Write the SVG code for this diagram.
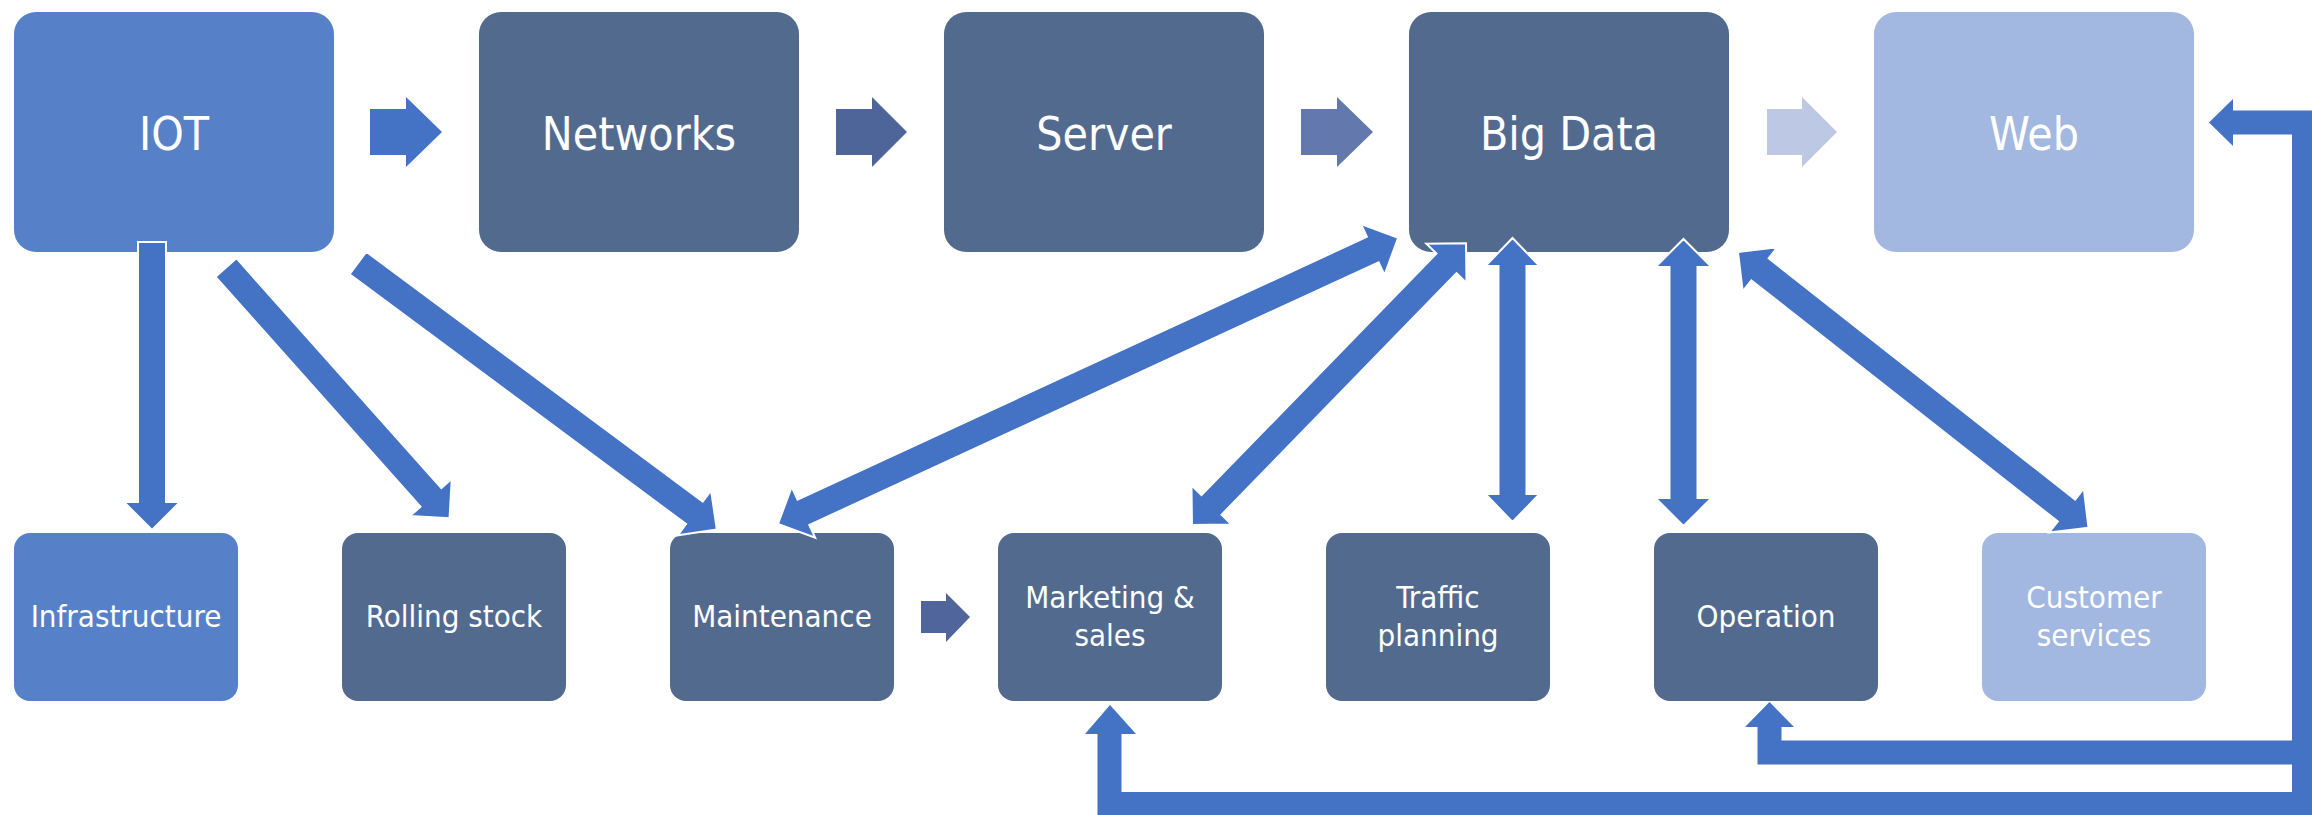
<svg xmlns="http://www.w3.org/2000/svg" width="2312" height="815" viewBox="0 0 2312 815">
<style>
.t{font-family:'DejaVu Sans Condensed','DejaVu Sans',sans-serif;font-stretch:condensed;fill:#fff;text-anchor:middle}
.big{font-size:46px}
.sm{font-size:31px}
.mid{fill:#536A8F}
.lt{fill:#5681C9}
.pale{fill:#A3B8E0}
.arr{fill:#4472C4;stroke:#fff;stroke-width:2;stroke-linejoin:miter}
.ret{fill:none;stroke:#4472C4;stroke-width:24;stroke-linejoin:miter}
.head{fill:#4472C4}
</style>
<rect width="2312" height="815" fill="#fff"/>
<g id="iot"><rect class="lt" x="14" y="12" width="320" height="240" rx="22"/><text class="t big" x="174" y="150">IOT</text></g>
<g id="networks"><rect class="mid" x="479" y="12" width="320" height="240" rx="22"/><text class="t big" x="639" y="150">Networks</text></g>
<g id="server"><rect class="mid" x="944" y="12" width="320" height="240" rx="22"/><text class="t big" x="1104" y="150">Server</text></g>
<g id="bigdata"><rect class="mid" x="1409" y="12" width="320" height="240" rx="22"/><text class="t big" x="1569" y="150">Big Data</text></g>
<g id="web"><rect class="pale" x="1874" y="12" width="320" height="240" rx="22"/><text class="t big" x="2034" y="150">Web</text></g>
<g id="infrastructure"><rect class="lt" x="14" y="533" width="224" height="168" rx="16"/><text class="t sm" x="126" y="627">Infrastructure</text></g>
<g id="rolling"><rect class="mid" x="342" y="533" width="224" height="168" rx="16"/><text class="t sm" x="454" y="627">Rolling stock</text></g>
<g id="maintenance"><rect class="mid" x="670" y="533" width="224" height="168" rx="16"/><text class="t sm" x="782" y="627">Maintenance</text></g>
<g id="marketing"><rect class="mid" x="998" y="533" width="224" height="168" rx="16"/><text class="t sm" x="1110" y="608">Marketing &amp;</text><text class="t sm" x="1110" y="646">sales</text></g>
<g id="traffic"><rect class="mid" x="1326" y="533" width="224" height="168" rx="16"/><text class="t sm" x="1438" y="608">Traffic</text><text class="t sm" x="1438" y="646">planning</text></g>
<g id="operation"><rect class="mid" x="1654" y="533" width="224" height="168" rx="16"/><text class="t sm" x="1766" y="627">Operation</text></g>
<g id="customer"><rect class="pale" x="1982" y="533" width="224" height="168" rx="16"/><text class="t sm" x="2094" y="608">Customer</text><text class="t sm" x="2094" y="646">services</text></g>
<g id="connectors">
<polygon fill="#4472C4" points="370,109 406,109 406,97 442,132 406,167 406,155 370,155"/>
<polygon fill="#4D6598" points="836,109 872,109 872,97 907,132 872,167 872,155 836,155"/>
<polygon fill="#6378AC" points="1301,109 1337,109 1337,97 1373,132 1337,167 1337,155 1301,155"/>
<polygon fill="#BCC8E4" points="1767,109 1802,109 1802,97 1837,132 1802,167 1802,155 1767,155"/>
<polygon fill="#4F659C" points="921,601 946,601 946,593 970,617 946,642 946,633 921,633"/>
<polygon class="arr" transform="translate(152,242) rotate(90)" points="0,-14 260,-14 260,-28 288,0 260,28 260,14 0,14"/>
<polygon class="arr" transform="translate(226,267.5) rotate(48.3)" points="0,-14 308,-14 308,-28 336,0 308,28 308,14 0,14"/>
<polygon class="arr" transform="translate(358,263) rotate(36.6)" points="0,-14 419,-14 419,-28 447,0 419,28 419,14 0,14"/>
<polygon class="arr" transform="translate(778,524) rotate(-24.77)" points="0,0 28,-28 28,-14 655,-14 655,-28 683,0 655,28 655,14 28,14 28,28"/>
<polygon class="arr" transform="translate(1192,525) rotate(-45.8)" points="0,0 28,-28 28,-14 365,-14 365,-28 393,0 365,28 365,14 28,14 28,28"/>
<polygon class="arr" transform="translate(1512.5,522) rotate(-90)" points="0,0 28,-27 28,-14 256,-14 256,-27 284,0 256,27 256,14 28,14 28,27"/>
<polygon class="arr" transform="translate(1683.5,526) rotate(-90)" points="0,0 28,-28 28,-14 259,-14 259,-28 287,0 259,28 259,14 28,14 28,28"/>
<polygon class="arr" transform="translate(1738,252) rotate(38.2)" points="0,0 28,-28 28,-14 418,-14 418,-28 446,0 418,28 418,14 28,14 28,28"/>
<polyline class="ret" points="1109.5,734 1109.5,804 2304,804 2304,122.5 2233,122.5"/>
<polyline class="ret" points="1769.5,727 1769.5,752.5 2300,752.5"/>
<polygon class="head" points="2233,99 2209,122.5 2233,146"/>
<polygon class="head" points="1745,727 1769.5,702 1794,727"/>
<polygon class="head" points="1085,734 1110,705 1136,734"/>
</g>
</svg>
